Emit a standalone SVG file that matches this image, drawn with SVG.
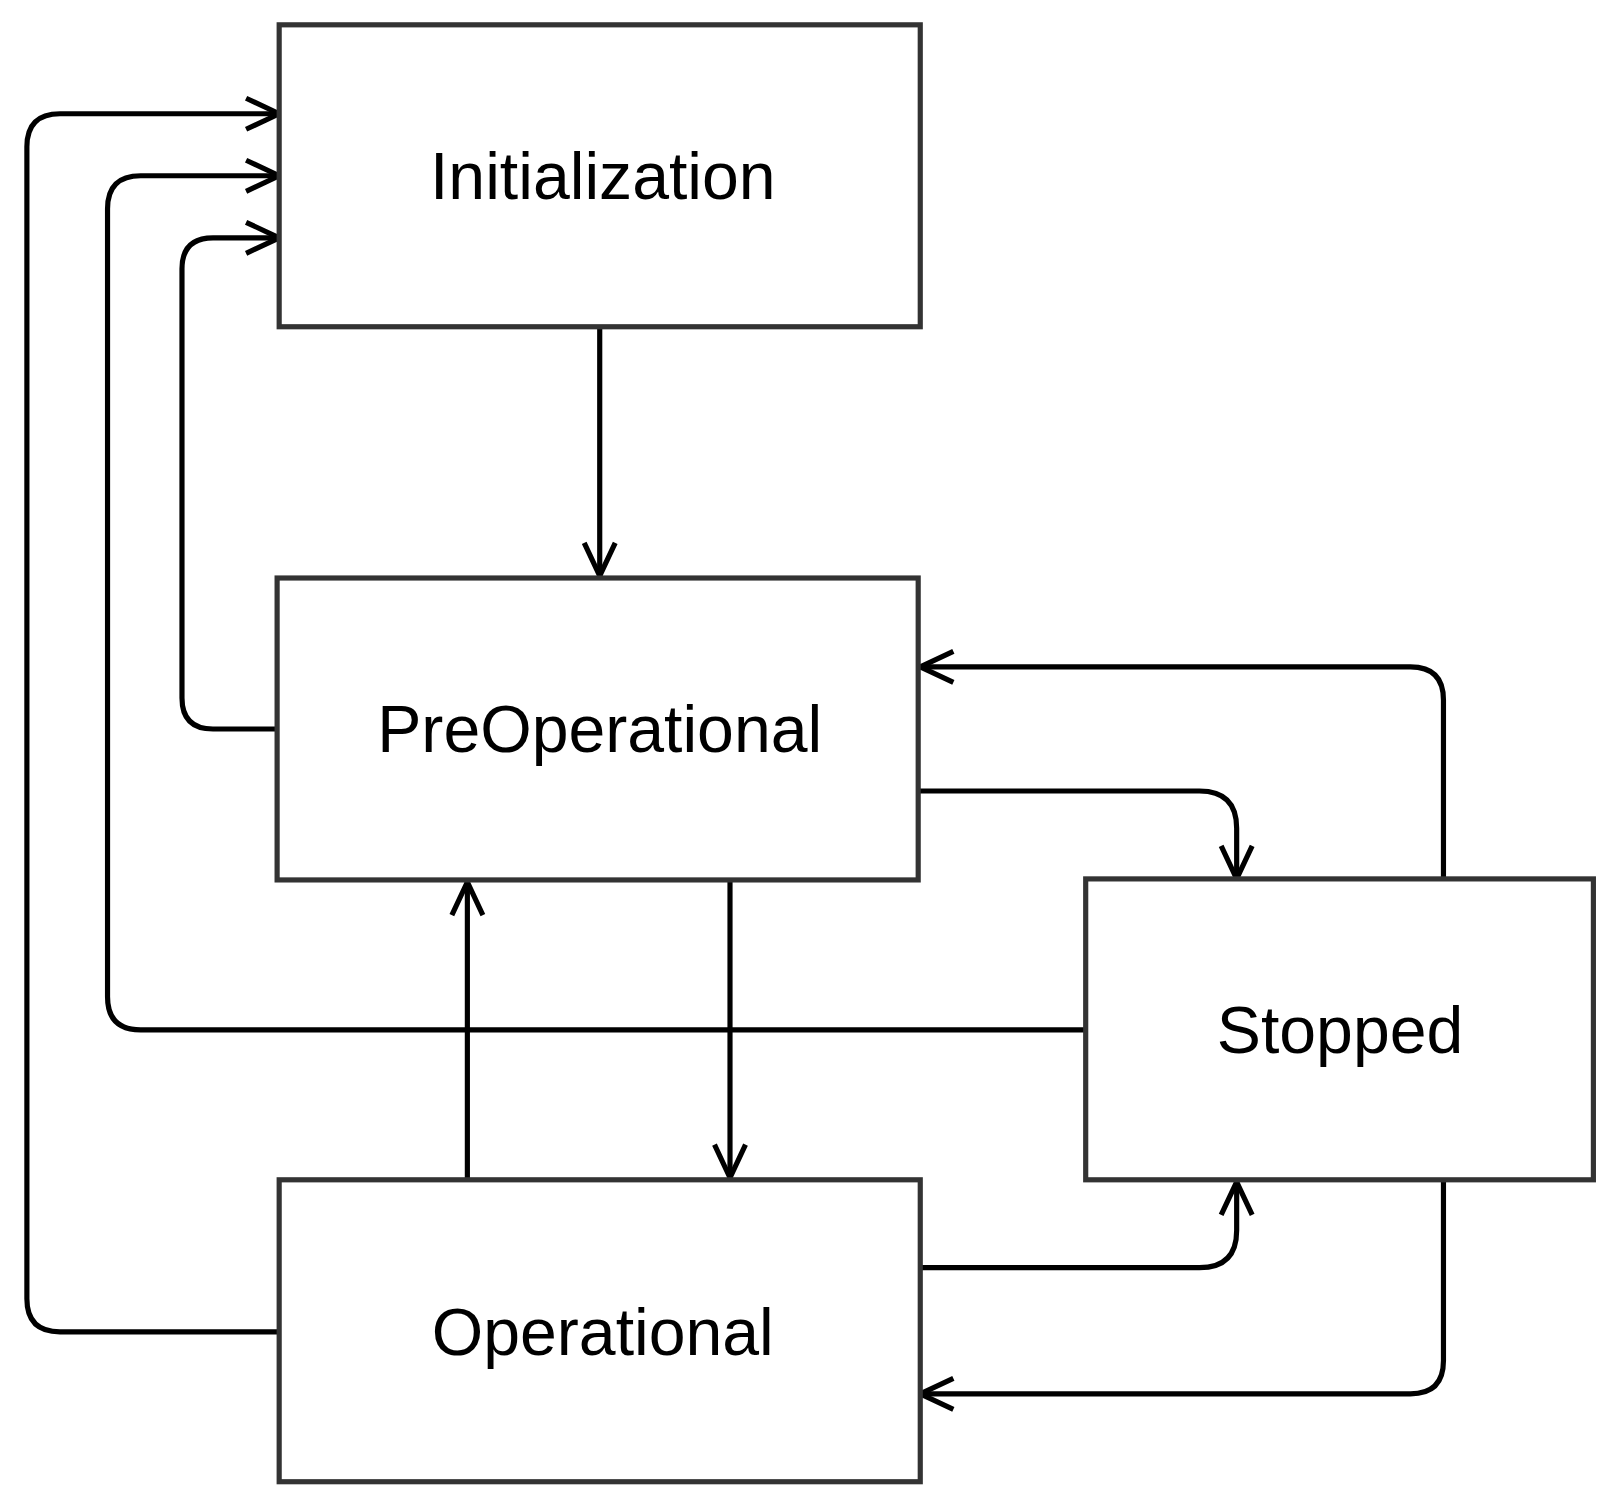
<svg xmlns="http://www.w3.org/2000/svg" width="1613" height="1497" viewBox="0 0 1613 1497">
<defs>
<style>
.box{fill:#fff;stroke:#333;stroke-width:5}
.lbl{font-family:"Helvetica","Liberation Sans",Arial,sans-serif;font-size:64px;fill:#000;text-anchor:middle;dominant-baseline:central}
.c{fill:none;stroke:#000;stroke-width:5;stroke-linejoin:round}
</style>
<marker id="a" viewBox="0 0 40 40" refX="36" refY="20" markerUnits="userSpaceOnUse" markerWidth="40" markerHeight="40" orient="auto">
<path d="M4,5 L36,20 L4,35" fill="none" stroke="#000" stroke-width="5"/>
</marker>
</defs>
<rect width="1613" height="1497" fill="#fff"/>
<g transform="scale(1.034)">
<g id="connectors">
<path class="c" marker-end="url(#a)" d="M580,316 V557"/>
<path class="c" marker-end="url(#a)" d="M268,705 H206 Q176,705 176,675 V260 Q176,230 206,230 H270"/>
<path class="c" marker-end="url(#a)" d="M1050,996 H136 Q104,996 104,964 V202 Q104,170 136,170 H270"/>
<path class="c" marker-end="url(#a)" d="M270,1288 H58 Q26,1288 26,1256 V142 Q26,110 58,110 H270"/>
<path class="c" marker-end="url(#a)" d="M888,765 H1160 Q1196,765 1196,801 V850"/>
<path class="c" marker-end="url(#a)" d="M1396,850 V677 Q1396,645 1364,645 H890"/>
<path class="c" marker-end="url(#a)" d="M706,851 V1139"/>
<path class="c" marker-end="url(#a)" d="M452,1141 V853"/>
<path class="c" marker-end="url(#a)" d="M890,1226 H1160 Q1196,1226 1196,1190 V1143"/>
<path class="c" marker-end="url(#a)" d="M1396,1141 V1316 Q1396,1348 1364,1348 H890"/>
</g>
<g id="init"><rect class="box" x="270" y="24" width="620" height="292"/><text class="lbl" x="583" y="170">Initialization</text></g>
<g id="preop"><rect class="box" x="268" y="559" width="620" height="292"/><text class="lbl" x="580" y="705">PreOperational</text></g>
<g id="op"><rect class="box" x="270" y="1141" width="620" height="292"/><text class="lbl" x="583" y="1288">Operational</text></g>
<g id="stopped"><rect class="box" x="1050" y="850" width="491" height="291"/><text class="lbl" x="1296" y="996">Stopped</text></g>
</g>
</svg>
